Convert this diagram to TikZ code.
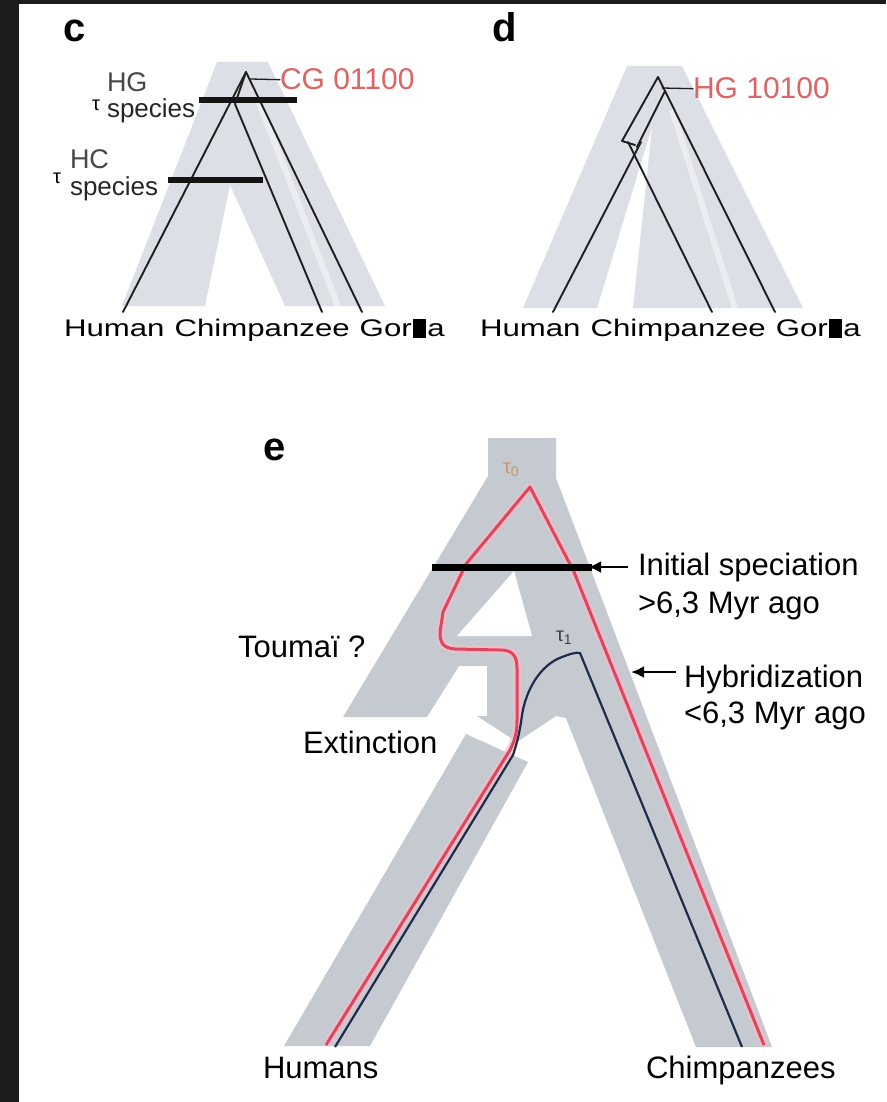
\documentclass[tikz,border=0pt]{standalone}
\usepackage{fontspec}
\setmainfont{Liberation Sans}
\usetikzlibrary{arrows.meta}
\definecolor{bandc}{HTML}{DCDFE5}
\definecolor{bande}{HTML}{C5C9D0}
\definecolor{redline}{HTML}{E0455E}
\definecolor{redhalo}{HTML}{F5BFCA}
\definecolor{navyline}{HTML}{1E2B4A}
\definecolor{labred}{HTML}{DD6464}
\definecolor{taucol}{HTML}{C49A6C}
\definecolor{blackstrip}{HTML}{1C1C1C}
\newcommand\myfs[1]{\fontsize{#1}{#1}\selectfont}
\newcommand\gorblock{Gor\kern1pt\rule[-0.08em]{0.42em}{0.8em}\kern1pt a}
\begin{document}
\begin{tikzpicture}[x=1pt,y=-1pt,
  gene/.style={draw=black!88,line width=1.9pt,line join=round,line cap=round},
  bar/.style={draw=black!92,line width=6pt},
  lab/.style={inner sep=0pt,outer sep=0pt,anchor=base west},
  panellab/.style={lab,font=\myfs{40}\bfseries},
  leaflab/.style={lab,font=\myfs{24}},
  elab/.style={lab,font=\myfs{31}},
  redlab/.style={lab,font=\myfs{30},text=labred},
  cband/.style={fill=bandc,draw=none},
  eband/.style={fill=bande,draw=none},
  seam/.style={draw=white,opacity=0.45,line width=6pt},
  redpath/.style={draw=redline,line width=3pt,line join=round},
  halo/.style={draw=redhalo,line width=8pt,line join=round,opacity=0.7},
  navypath/.style={draw=navyline,line width=2.2pt,line join=round},
  pointer/.style={draw=black,line width=2.5pt,-{Latex[length=13pt,width=12pt]}},
]
\useasboundingbox (0,0) rectangle (886,1102);
\fill[white] (0,0) rectangle (886,1102);
\fill[blackstrip] (0,0) rectangle (19,1102);
\fill[blackstrip] (0,0) rectangle (886,4);

% ---------- panel c bands ----------
\fill[cband] (217,62) -- (268,62) -- (385,306) -- (285,306) -- (230,185) -- (205,306) -- (122,306) -- cycle;
\draw[seam] (258,100) -- (338,306);
% ---------- panel d bands ----------
\fill[cband] (627,66) -- (682,66) -- (803,308) -- (633,308) -- (652,127) -- (597,308) -- (523,308) -- cycle;
\draw[seam] (672,110) -- (735,308);

% ---------- panel e bands ----------
\fill[eband] (488,438) -- (556,438) -- (556,478) -- (772,1047) -- (696,1047) -- (566,718) -- (556,716) -- (517,742) -- (477,716) -- (487,716) -- (487,666) -- (459,666) -- (427,717) -- (343,717) -- (488,476) -- cycle;
\fill[white] (514,571) -- (457,636) -- (532,636) -- cycle;
\fill[eband] (466,734) -- (528,762) -- (370,1046) -- (284,1046) -- cycle;

% ---------- panel c gene tree ----------
\coordinate (cR) at (246,72);
\coordinate (cK) at (235,104);
\coordinate (cH) at (123,312);
\coordinate (cC) at (322,312);
\coordinate (cG) at (362,312);
\draw[gene] (cH) -- (cR) -- (cG);
\draw[gene] (cR) -- (cK) -- (cC);
\draw[bar] (199,100) -- (297,100);
\draw[bar] (168,180) -- (263,180);

% ---------- panel d gene tree ----------
\coordinate (dR) at (658,77);
\coordinate (dG) at (775,312);
\coordinate (dO1) at (622,141);
\coordinate (dO2) at (635,145);
\coordinate (dI) at (665,91);
\coordinate (dI2) at (637,147);
\coordinate (dHs) at (641,142);
\coordinate (dH) at (553,312);
\coordinate (dCs) at (628,142);
\coordinate (dC) at (712,312);
\draw[gene] (dR) -- (dG);
\draw[gene] (dR) -- (dO1) -- (dO2);
\draw[gene] (dI) -- (dI2);
\draw[gene] (dHs) -- (dH);
\draw[gene] (dCs) -- (dC);

% ---------- panel e lineages ----------
\coordinate (eA) at (530,487);
\coordinate (eT1) at (580,653);
\coordinate (eHr) at (326,1045);
\coordinate (eCr) at (764,1045);
\coordinate (eHn) at (335,1047);
\coordinate (eCn) at (742,1047);
\path[halo] (eHr) -- (510,750) .. controls (516,738) and (517,730) .. (517,720) -- (517,668) .. controls (517,655) and (512,650) .. (500,650) -- (455,649) .. controls (443,648) and (440,643) .. (440,632) -- (443,612) -- (466,564) -- (eA) -- (574,572) -- (eCr);
\path[redpath] (eHr) -- (510,750) .. controls (516,738) and (517,730) .. (517,720) -- (517,668) .. controls (517,655) and (512,650) .. (500,650) -- (455,649) .. controls (443,648) and (440,643) .. (440,632) -- (443,612) -- (466,564) -- (eA) -- (574,572) -- (eCr);
\path[navypath] (eHn) -- (513,755) .. controls (518,740) and (520,730) .. (522,715) .. controls (526,690) and (540,665) .. (562,657) .. controls (570,654) and (576,652) .. (eT1) -- (eCn);
\draw[line width=7pt] (432,567) -- (592,567);
\coordinate (isT) at (628,567);
\coordinate (isH) at (588,567);
\draw[pointer] (isT) -- (isH);
\coordinate (hyT) at (676,672);
\coordinate (hyH) at (631,672);
\draw[pointer] (hyT) -- (hyH);

% ---------- labels ----------
\node[panellab] (labc) at (63,42) {c};
\node[panellab] (labd) at (492,42) {d};
\node[panellab] (labe) at (263,460) {e};

\node[lab,font=\myfs{20}] (tauHGsym) at (92,111) {τ};
\node[lab,font=\myfs{27},text=black!72] (tauHGsup) at (107,92) {HG};
\node[lab,font=\myfs{26},text=black!85] (tauHGsub) at (107,118) {species};
\node[lab,font=\myfs{20}] (tauHCsym) at (53,184) {τ};
\node[lab,font=\myfs{27},text=black!72] (tauHCsup) at (70,169) {HC};
\node[lab,font=\myfs{26},text=black!85] (tauHCsub) at (70,195) {species};

\node[redlab] (cglab) at (280,90) {CG 01100};
\node[redlab] (hglab) at (693,99) {HG 10100};
\coordinate (cT) at (250,79);
\coordinate (dT) at (662,88);
\draw[gene,line width=1.3pt] (cT) -- (cglab.west);
\draw[gene,line width=1.3pt] (dT) -- (hglab.west);

\node[leaflab] (cHum) at (64,336) {\scalebox{1.3}[1]{Human}};
\node[leaflab] (cChi) at ([xshift=10pt]cHum.base east) {\scalebox{1.3}[1]{Chimpanzee}};
\node[leaflab] (cGor) at ([xshift=10pt]cChi.base east) {\scalebox{1.3}[1]{\gorblock}};
\node[leaflab] (dHum) at (480,336) {\scalebox{1.3}[1]{Human}};
\node[leaflab] (dChi) at ([xshift=10pt]dHum.base east) {\scalebox{1.3}[1]{Chimpanzee}};
\node[leaflab] (dGor) at ([xshift=10pt]dChi.base east) {\scalebox{1.3}[1]{\gorblock}};

\node[elab] (initsp) at (638,575) {Initial speciation};
\node[elab] (initago) at (638,613) {>6,3 Myr ago};
\node[elab] (hyb) at (684,687) {Hybridization};
\node[elab] (hybago) at (684,723) {<6,3 Myr ago};
\node[elab] (toumai) at (238,657) {Toumaï ?};
\node[elab] (extinct) at (303,753) {Extinction};
\node[elab] (humans) at (263,1078) {Humans};
\node[elab] (chimps) at (646,1078) {Chimpanzees};
\node[lab,font=\myfs{20},text=taucol] (tau0) at (503,473) {τ\textsubscript{0}};
\node[lab,font=\myfs{20},text=black!75] (tau1) at (556,641) {τ\textsubscript{1}};
\end{tikzpicture}
\end{document}
